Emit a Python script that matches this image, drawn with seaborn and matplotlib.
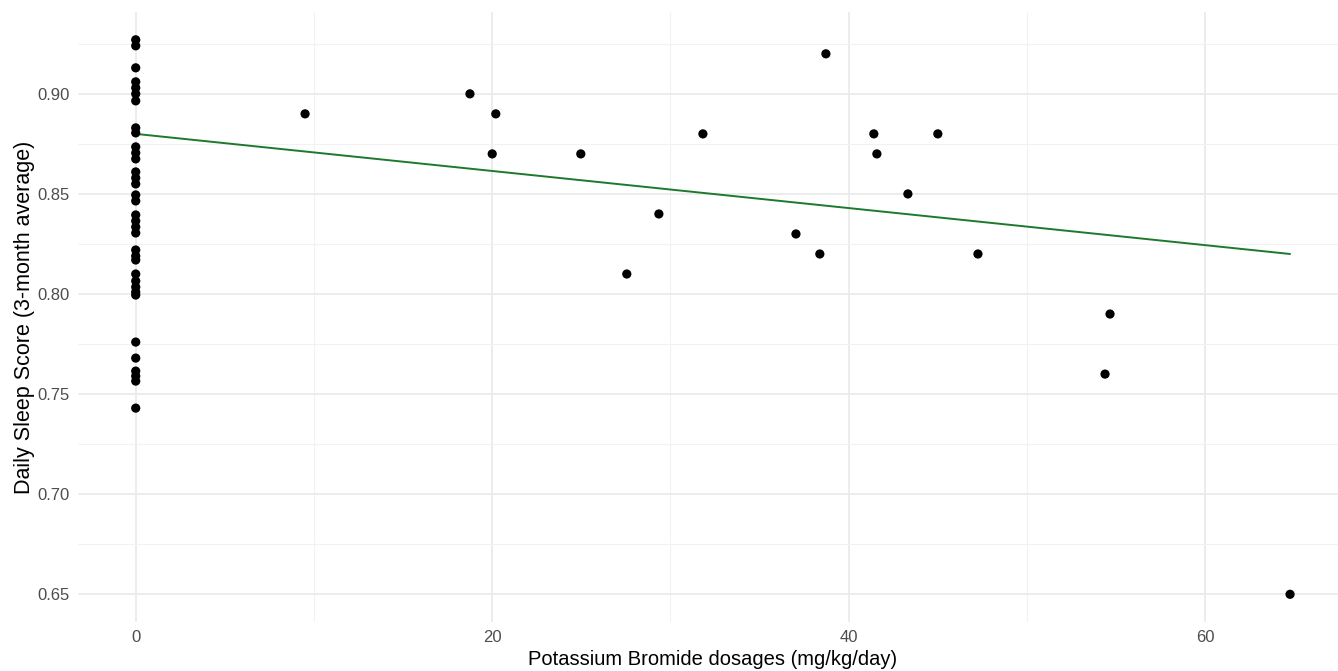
import numpy as np
import pandas as pd
import matplotlib
matplotlib.use("Agg")
import matplotlib.pyplot as plt
import seaborn as sns
from matplotlib.ticker import MultipleLocator

# Zero-dose observations
zero_scores = [0.927, 0.924, 0.913, 0.906, 0.903, 0.900, 0.8965, 0.883, 0.8805,
               0.8735, 0.8705, 0.8675, 0.861, 0.858, 0.855, 0.8495, 0.8465,
               0.8395, 0.8365, 0.8335, 0.8305, 0.822, 0.819, 0.817, 0.810, 0.8065,
               0.8035, 0.801, 0.7995, 0.776, 0.768, 0.7615, 0.759, 0.7565, 0.743]

# Treated observations
dose_values = [9.5, 18.75, 20.2, 20.0, 24.97, 27.55, 29.35, 31.82, 37.04, 38.38,
               38.72, 41.41, 41.58, 43.32, 45.0, 47.25, 54.38, 54.66, 64.76]
dose_scores = [0.89, 0.90, 0.89, 0.87, 0.87, 0.81, 0.84, 0.88, 0.83, 0.82,
               0.92, 0.88, 0.87, 0.85, 0.88, 0.82, 0.76, 0.79, 0.65]

# Trend line endpoints
trend_x = [0.0, 64.76]
trend_y = [0.880, 0.820]

x_ticks = [0, 20, 40, 60]
y_ticks = [0.65, 0.70, 0.75, 0.80, 0.85, 0.90]

df = pd.DataFrame({
    "dose": [0.0] * len(zero_scores) + dose_values,
    "score": zero_scores + dose_scores,
})
trend = pd.DataFrame({"dose": trend_x, "score": trend_y})

sns.set_theme(style="whitegrid")
plt.rcParams["font.family"] = ["Liberation Sans", "DejaVu Sans"]

fig = plt.figure(figsize=(13.38, 6.71), dpi=100)
ax = fig.add_axes([0.0583, 0.073, 0.949, 0.909])

sns.scatterplot(data=df, x="dose", y="score", ax=ax, color="black",
                s=44, edgecolor="none", zorder=3)
sns.lineplot(data=trend, x="dose", y="score", ax=ax, color="#1d7a2c",
             linewidth=1.4, zorder=2)

xr = max(df["dose"]) - min(df["dose"])
yr = max(df["score"]) - min(df["score"])
ax.set_xlim(-0.05 * xr, max(df["dose"]) + 0.05 * xr)
ax.set_ylim(min(df["score"]) - 0.05 * yr, max(df["score"]) + 0.05 * yr)

ax.set_xticks(x_ticks)
ax.set_yticks(y_ticks)
ax.set_yticklabels([f"{v:.2f}" for v in y_ticks])
ax.xaxis.set_minor_locator(MultipleLocator(10))
ax.yaxis.set_minor_locator(MultipleLocator(0.025))

ax.grid(which="major", color="#EBEBEB", linewidth=1.3)
ax.grid(which="minor", color="#F2F2F2", linewidth=0.8)
ax.set_axisbelow(True)
for sp in ax.spines.values():
    sp.set_visible(False)
ax.tick_params(axis="both", which="both", length=0, labelsize=12,
               labelcolor="#4D4D4D", pad=6)

ax.set_xlabel("Potassium Bromide dosages (mg/kg/day)", fontsize=14.5,
              color="black", labelpad=3)
ax.set_ylabel("Daily Sleep Score (3-month average)", fontsize=15.5,
              color="black", labelpad=2)

fig.savefig("out.png", dpi=100, facecolor="white")
